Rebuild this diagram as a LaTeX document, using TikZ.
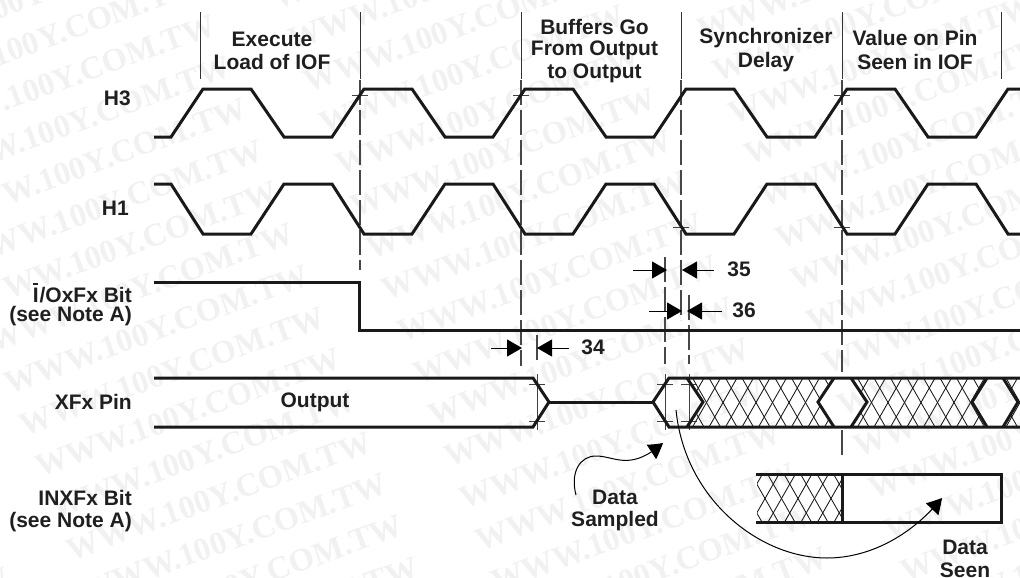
\documentclass[tikz,border=0pt]{standalone}
\usepackage{fontspec}
\setmainfont{Liberation Sans}
\newfontfamily\wmfont{Liberation Serif}
\usetikzlibrary{arrows.meta,bending}
\tikzset{
  sig/.style={line width=3pt,line join=miter,line cap=butt,draw=black!90},
  thin line/.style={line width=1pt,draw=black!80},
  guide/.style={line width=1.1pt,draw=black!72,dash pattern=on 25pt off 5pt},
  tickmark/.style={line width=0.8pt,draw=black!75},
  hatchline/.style={line width=0.85pt,draw=black!90},
  lbl/.style={font=\fontsize{21}{24}\selectfont\bfseries,text=black!88,inner sep=0pt,align=center},
  lblr/.style={lbl,anchor=east,align=right},
  dimarrow/.style={line width=1pt,draw=black,-{Triangle[length=15pt,width=17pt]}},
  curvearrow/.style={line width=1pt,draw=black,-{Triangle[length=15pt,width=17pt,bend]}},
  wm/.style={font=\wmfont\fontsize{32.5}{33}\selectfont\bfseries,text=black!5.5,rotate=20,inner sep=0pt,anchor=base east}
}
\newcommand{\barI}{\leavevmode\rlap{\rule[17pt]{5.6pt}{1.8pt}}I\kern1pt}
\begin{document}
\begin{tikzpicture}[x=1pt,y=-1pt]
\useasboundingbox (0,0) rectangle (1020,578);
\clip (0,0) rectangle (1020,578);
% watermark
\foreach \c in {-1,0,1,2,3}{
  \foreach \r in {-14,-13,...,5}{
    \node[wm] at ({374+409*\c+15.6*\r},{451-10*\c+41.7*\r}) {WWW.100Y.COM.TW};
  }
}
% guides, solid tops
\foreach \x in {200,360,521,681,842,1001}{
  \draw[thin line] (\x,12) -- (\x,79);
}
\draw[guide] (360,80) -- (360,270);
\draw[guide] (521,80) -- (521,366);
\draw[guide] (681,80) -- (681,320);
\draw[guide] (842,80) -- (842,372);
\draw[guide] (842,430) -- (842,460);
\draw[guide] (665,257) -- (665,364);
\draw[guide] (689,295) -- (689,364);
\draw[guide] (537,335) -- (537,362);
% tick marks
\foreach \x in {360,521,842}{
  \draw[tickmark] (\x-8,95) -- (\x+8,95);
}
\foreach \x in {681,842}{
  \draw[tickmark] (\x-8,227) -- (\x+8,227);
}
\foreach \x in {537,665,689}{
  \draw[tickmark] (\x,374) -- (\x,430);
  \draw[tickmark] (\x-8,384) -- (\x+8,384);
  \draw[tickmark] (\x-8,421) -- (\x+8,421);
}
% H3
\draw[sig] (154,137) -- (171,137) -- (203,89) -- (251,89) -- (284,137) -- (332,137)
  -- (364,89) -- (412,89) -- (445,137) -- (493,137)
  -- (525,89) -- (573,89) -- (606,137) -- (654,137)
  -- (686,89) -- (734,89) -- (767,137) -- (815,137)
  -- (847,89) -- (895,89) -- (928,137) -- (976,137)
  -- (1008,89) -- (1025,89);
% H1
\draw[sig] (154,184) -- (171,184) -- (203,234) -- (251,234) -- (284,184) -- (332,184)
  -- (364,234) -- (412,234) -- (445,184) -- (493,184)
  -- (525,234) -- (573,234) -- (606,184) -- (654,184)
  -- (686,234) -- (734,234) -- (767,184) -- (815,184)
  -- (847,234) -- (895,234) -- (928,184) -- (976,184)
  -- (1008,234) -- (1025,234);
% I/O
\draw[sig] (154,282) -- (359,282) -- (359,330) -- (1025,330);
% XFx hatch
\begin{scope}
  \clip (687,378) -- (703,402) -- (687,427) -- (834,427) -- (818,402) -- (834,378) -- cycle
        (851,378) -- (867,402) -- (851,427) -- (987,427) -- (972,402) -- (987,378) -- cycle
        (1003,378) -- (1018,402) -- (1003,427) -- (1030,427) -- (1030,378) -- cycle;
  \foreach \k in {-2,...,24}{
    \draw[hatchline] ({676+\k*16.5},378) -- ({704+\k*16.5},427);
    \draw[hatchline] ({704+\k*16.5},378) -- ({676+\k*16.5},427);
  }
\end{scope}
% INXFx hatch
\begin{scope}
  \clip (757,474) rectangle (842,523);
  \foreach \k in {-2,...,6}{
    \draw[hatchline] ({751+\k*16.5},474) -- ({779+\k*16.5},523);
    \draw[hatchline] ({779+\k*16.5},474) -- ({751+\k*16.5},523);
  }
\end{scope}
% XFx
\draw[sig] (154,378) -- (533,378) -- (549,402) -- (533,427) -- (154,427);
\draw[sig] (549,402) -- (653,402);
\draw[sig] (1025,378) -- (669,378) -- (653,402) -- (669,427) -- (1025,427);
\draw[sig] (687,378) -- (703,402) -- (687,427);
\draw[sig] (834,378) -- (818,402) -- (834,427);
\draw[sig] (851,378) -- (867,402) -- (851,427);
\draw[sig] (987,378) -- (972,402) -- (987,427);
\draw[sig] (1003,378) -- (1018,402) -- (1003,427);
% INXFx box
\draw[sig] (756,474.5) -- (1001,474.5) -- (1001,522.5) -- (756,522.5);
\draw[sig] (842,474.5) -- (842,522.5);
% dimension arrows
\coordinate (d34a) at (491,348); \coordinate (d34b) at (522,348);
\coordinate (d34c) at (569,348); \coordinate (d34d) at (537,348);
\coordinate (d35a) at (633,270); \coordinate (d35b) at (667,270);
\coordinate (d35c) at (714,270); \coordinate (d35d) at (682,270);
\coordinate (d36a) at (649,311); \coordinate (d36b) at (682,311);
\coordinate (d36c) at (722,311); \coordinate (d36d) at (687,311);
\draw[dimarrow] (d34a) -- (d34b);
\draw[dimarrow] (d34c) -- (d34d);
\draw[dimarrow] (d35a) -- (d35b);
\draw[dimarrow] (d35c) -- (d35d);
\draw[dimarrow] (d36a) -- (d36b);
\draw[dimarrow] (d36c) -- (d36d);
\node[lbl] (n34) at (593,347) {34};
\node[lbl] (n35) at (739,269) {35};
\node[lbl] (n36) at (744,310) {36};
% curved arrows
\coordinate (c1s) at (676,410); \coordinate (c1m) at (827,558); \coordinate (c1e) at (942,498);
\draw[curvearrow] (c1s) .. controls (685,500) and (760,558) .. (c1m)
   .. controls (870,558) and (912,535) .. (c1e);
\coordinate (c2s) at (576,495); \coordinate (c2e) at (663,443);
\draw[curvearrow] (c2s) .. controls (570,472) and (580,456) .. (596,456)
   .. controls (615,456) and (630,472) .. (c2e);
% labels
\node[lbl] (t1) at (272,39) {Execute};
\node[lbl] (t2) at (272,62) {Load of IOF};
\node[lbl] (t3) at (594.5,27) {Buffers Go};
\node[lbl] (t4) at (594.5,50) {From Output};
\node[lbl] (t5) at (594.5,73) {to Output};
\node[lbl] (t6) at (766,38) {Synchronizer};
\node[lbl] (t7) at (766,62) {Delay};
\node[lbl] (t8) at (915,38) {Value on Pin};
\node[lbl] (t9) at (915,62) {Seen in IOF};
\node[lblr] (l1) at (131,98) {H3};
\node[lblr] (l2) at (129,208) {H1};
\node[lblr] (l3) at (132,293) {\barI/OxFx Bit};
\node[lblr] (l4) at (132,316) {(see Note A)};
\node[lblr] (l5) at (132,402) {XFx Pin};
\node[lblr] (l6) at (132,498) {INXFx Bit};
\node[lblr] (l7) at (132,522) {(see Note A)};
\node[lbl] (o1) at (315,402) {Output};
\node[lbl] (s1) at (615,497) {Data};
\node[lbl] (s2) at (615,521) {Sampled};
\node[lbl] (s3) at (965,547) {Data};
\node[lbl] (s4) at (965,570) {Seen};
\end{tikzpicture}
\end{document}
